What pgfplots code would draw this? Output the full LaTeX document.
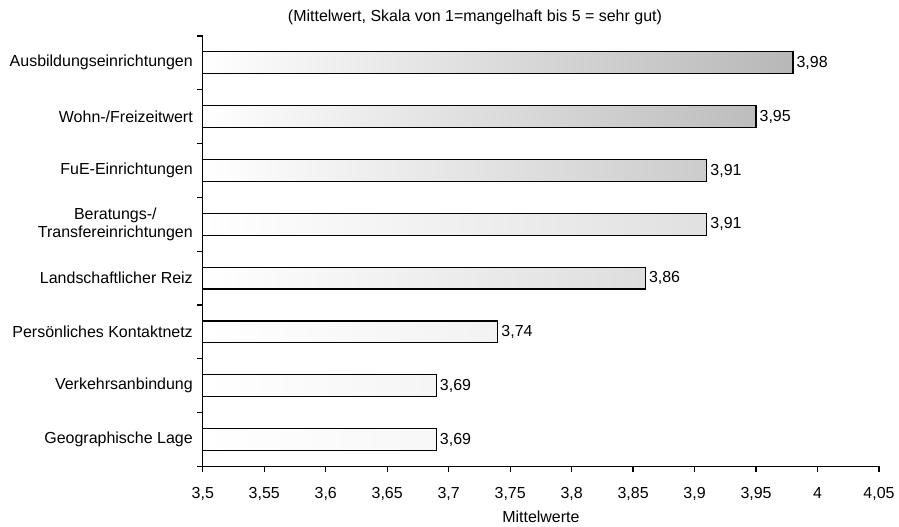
\documentclass[border=0pt]{standalone}
\usepackage{pgfplots}
\pgfplotsset{compat=1.18}
\usepackage{fontspec}
\setmainfont{Liberation Sans}
\begin{document}
\begin{tikzpicture}[font=\fontsize{12}{14}\selectfont]
\begin{axis}[
  scale only axis, width=507.75pt, height=323.25pt,
  xmin=3.5, xmax=4.05, ymin=0.5, ymax=8.5,
  clip=false,
  axis x line*=bottom, axis y line*=left,
  axis line style={line width=1pt},
  tick style={line width=1pt, black},
  tick align=outside, major tick length=4pt,
  xtick={3.5,3.55,3.6,3.65,3.7,3.75,3.8,3.85,3.9,3.95,4,4.05},
  xticklabels={{3,5},{3,55},{3,6},{3,65},{3,7},{3,75},{3,8},{3,85},{3,9},{3,95},{4},{4,05}},
  xticklabel style={yshift=-8pt},
  ytick={0.5,1.5,2.5,3.5,4.5,5.5,6.5,7.5,8.5},
  y tick label as interval,
  yticklabels={Geographische Lage, Verkehrsanbindung, Persönliches Kontaktnetz, Landschaftlicher Reiz, {Beratungs-/\\Transfereinrichtungen}, FuE-Einrichtungen, Wohn-/Freizeitwert, Ausbildungseinrichtungen},
  yticklabel style={align=center},
  xlabel={Mittelwerte},
  xlabel style={at={(axis description cs:0.5,0)}, anchor=center, yshift=-37.5pt},
]
% bars: from 3.5 to the mean, bar height 0.408 of a category
\addplot[draw=black, line width=0.9pt, left color=white, right color=black!28] coordinates {(3.5,7.796) (3.98,7.796) (3.98,8.204) (3.5,8.204)} -- cycle;
\addplot[draw=black, line width=0.9pt, left color=white, right color=black!26] coordinates {(3.5,6.796) (3.95,6.796) (3.95,7.204) (3.5,7.204)} -- cycle;
\addplot[draw=black, line width=0.9pt, left color=white, right color=black!20] coordinates {(3.5,5.796) (3.91,5.796) (3.91,6.204) (3.5,6.204)} -- cycle;
\addplot[draw=black, line width=0.9pt, left color=white, right color=black!12] coordinates {(3.5,4.796) (3.91,4.796) (3.91,5.204) (3.5,5.204)} -- cycle;
\addplot[draw=black, line width=0.9pt, left color=white, right color=black!13] coordinates {(3.5,3.796) (3.86,3.796) (3.86,4.204) (3.5,4.204)} -- cycle;
\addplot[draw=black, line width=0.9pt, left color=white, right color=black!5] coordinates {(3.5,2.796) (3.74,2.796) (3.74,3.204) (3.5,3.204)} -- cycle;
\addplot[draw=black, line width=0.9pt, left color=white, right color=black!4] coordinates {(3.5,1.796) (3.69,1.796) (3.69,2.204) (3.5,2.204)} -- cycle;
\addplot[draw=black, line width=0.9pt, left color=white, right color=black!3] coordinates {(3.5,0.796) (3.69,0.796) (3.69,1.204) (3.5,1.204)} -- cycle;
% value labels
\addplot[only marks, mark=*, mark size=0pt, mark options={draw=none, fill=none},
  point meta=x, nodes near coords,
  every node near coord/.append style={anchor=west, black, inner sep=2.5pt,
    /pgf/number format/fixed, /pgf/number format/fixed zerofill,
    /pgf/number format/precision=2, /pgf/number format/use comma,
    /pgf/number format/assume math mode=true}]
  coordinates {(3.98,8) (3.95,7) (3.91,6) (3.91,5) (3.86,4) (3.74,3) (3.69,2) (3.69,1)};
\node at (rel axis cs:0.4025,1.042) {(Mittelwert, Skala von 1=mangelhaft bis 5 = sehr gut)};
\path (rel axis cs:-0.2999,-0.1369) rectangle (rel axis cs:1.028,1.0835);
\end{axis}
\end{tikzpicture}
\end{document}
